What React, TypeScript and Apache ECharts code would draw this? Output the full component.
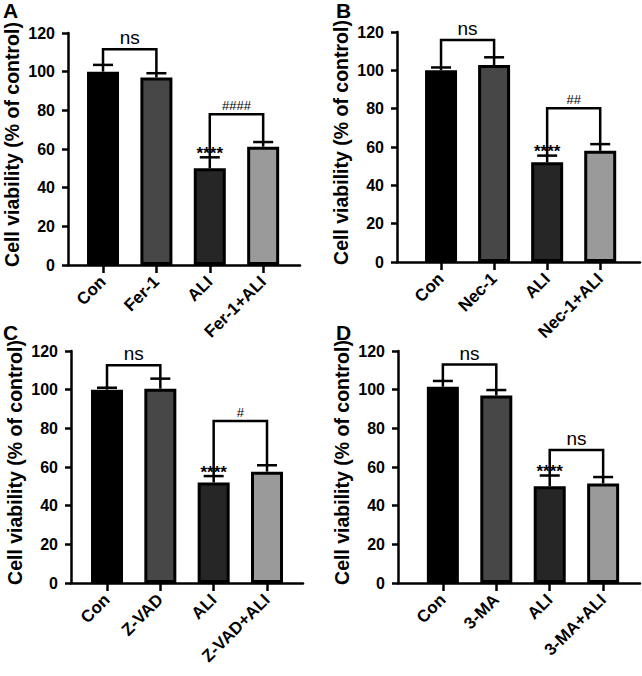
import React, { useEffect, useRef } from 'react';
import * as echarts from 'echarts';

// ---- data ----
const catsA = ['Con', 'Fer-1', 'ALI', 'Fer-1+ALI'];
const catsB = ['Con', 'Nec-1', 'ALI', 'Nec-1+ALI'];
const catsC = ['Con', 'Z-VAD', 'ALI', 'Z-VAD+ALI'];
const catsD = ['Con', '3-MA', 'ALI', '3-MA+ALI'];

const valsA = [100, 97, 50, 61.2];
const valsB = [100, 102.8, 52, 58];
const valsC = [100, 100.5, 52, 57.6];
const valsD = [101.5, 97, 50, 51.5];

const errA = [3.5, 2.2, 5.7, 2.4];
const errB = [1.5, 4, 3.5, 3.5];
const errC = [1, 5.2, 3.3, 3.3];
const errD = [3, 2.8, 5.6, 3.3];

const sigA = ['', '', '****', ''];
const sigB = ['', '', '****', ''];
const sigC = ['', '', '****', ''];
const sigD = ['', '', '****', ''];

// [from, to, level, label]
const bracketsA: [number, number, number, string][] = [[0, 1, 111.6, 'ns'], [2, 3, 78, '####']];
const bracketsB: [number, number, number, string][] = [[0, 1, 115.8, 'ns'], [2, 3, 80.2, '##']];
const bracketsC: [number, number, number, string][] = [[0, 1, 112.6, 'ns'], [2, 3, 83.8, '#']];
const bracketsD: [number, number, number, string][] = [[0, 1, 113, 'ns'], [2, 3, 68.8, 'ns']];

const letters = ['A', 'B', 'C', 'D'];
const yTitle = 'Cell viability (% of control)';

const fills = ['#000000', '#474747', '#262626', '#9a9a9a'];
const FONT = 'Liberation Sans, Arial, sans-serif';

const panels = [
  { cats: catsA, vals: valsA, err: errA, sig: sigA, br: bracketsA, left: 68, top: 33, width: 232, height: 232, min: -0.656, max: 3.69, lx: 3, ly: 0 },
  { cats: catsB, vals: valsB, err: errB, sig: sigB, br: bracketsB, left: 397, top: 32, width: 243, height: 230, min: -0.83, max: 3.75, lx: 336, ly: 0 },
  { cats: catsC, vals: valsC, err: errC, sig: sigC, br: bracketsC, left: 71, top: 351, width: 232, height: 232, min: -0.675, max: 3.675, lx: 3, ly: 322 },
  { cats: catsD, vals: valsD, err: errD, sig: sigD, br: bracketsD, left: 398, top: 351, width: 242, height: 232, min: -0.84, max: 3.69, lx: 336, ly: 322 },
];

export default function App() {
  const ref = useRef<HTMLDivElement>(null);
  useEffect(() => {
    if (!ref.current) return;
    const chart = echarts.init(ref.current, undefined, { renderer: 'svg' });
    const grid: any[] = [];
    const xAxis: any[] = [];
    const yAxis: any[] = [];
    const series: any[] = [];
    const title: any[] = [];
    panels.forEach((p, i) => {
      grid.push({ left: p.left, top: p.top, width: p.width, height: p.height, containLabel: false });
      title.push({ text: letters[i], left: p.lx, top: p.ly, padding: 0, textStyle: { fontSize: 21, fontWeight: 'bold', color: '#000', fontFamily: FONT } });
      xAxis.push({
        type: 'value', gridIndex: i, min: p.min, max: p.max,
        axisLine: { show: true, onZero: false, lineStyle: { color: '#000', width: 2.5 } },
        axisTick: { show: true, customValues: [0, 1, 2, 3], length: 8, lineStyle: { color: '#000', width: 2.5 } },
        axisLabel: {
          show: true, customValues: [0, 1, 2, 3], rotate: 45, margin: 14,
          fontSize: 17, fontWeight: 'bold', color: '#000', fontFamily: FONT,
          formatter: (v: number) => p.cats[Math.round(v)] ?? '',
        },
        splitLine: { show: false },
      });
      yAxis.push({
        type: 'value', gridIndex: i, min: 0, max: 120, interval: 20,
        name: yTitle, nameLocation: 'middle', nameGap: 46,
        nameTextStyle: { fontSize: 19.5, fontWeight: 'bold', color: '#000', fontFamily: FONT, padding: [0, 0, 0, 9] },
        axisLine: { show: true, onZero: false, lineStyle: { color: '#000', width: 2.5 } },
        axisTick: { show: true, length: 6, lineStyle: { color: '#000', width: 2.5 } },
        axisLabel: { fontSize: 16, fontWeight: 'bold', color: '#000', margin: 13, fontFamily: FONT },
        splitLine: { show: false },
      });
      series.push({
        type: 'bar', xAxisIndex: i, yAxisIndex: i, barWidth: 32,
        data: p.vals.map((v, j) => ({ value: [j, v], itemStyle: { color: fills[j], borderColor: '#000', borderWidth: 3 } })),
        z: 2,
      });
      series.push({
        type: 'custom', xAxisIndex: i, yAxisIndex: i, z: 3,
        data: p.vals.map((v, j) => [j, v, v + p.err[j]]),
        renderItem: (params: any, api: any) => {
          const x = api.value(0);
          const p0 = api.coord([x, api.value(1)]);
          const p1 = api.coord([x, api.value(2)]);
          const ls = { stroke: '#000', lineWidth: 2.5 };
          const children: any[] = [
            { type: 'line', shape: { x1: p0[0], y1: p0[1], x2: p1[0], y2: p1[1] }, style: ls },
            { type: 'line', shape: { x1: p1[0] - 10, y1: p1[1], x2: p1[0] + 10, y2: p1[1] }, style: ls },
          ];
          const s = p.sig[params.dataIndex];
          if (s) {
            children.push({ type: 'text', style: { text: s, x: p1[0], y: p1[1] - 4, align: 'center', verticalAlign: 'middle', fontSize: 17, fontWeight: 'bold', fontFamily: FONT, fill: '#000' } });
          }
          return { type: 'group', children };
        },
      });
      series.push({
        type: 'custom', xAxisIndex: i, yAxisIndex: i, z: 4,
        data: p.br.map((b) => [b[0], b[1], b[2], p.vals[b[0]] + p.err[b[0]], p.vals[b[1]] + p.err[b[1]]]),
        renderItem: (params: any, api: any) => {
          const a = api.coord([api.value(0), api.value(2)]);
          const b = api.coord([api.value(1), api.value(2)]);
          const a2 = api.coord([api.value(0), api.value(3)]);
          const b2 = api.coord([api.value(1), api.value(4)]);
          const label = p.br[params.dataIndex][3];
          const isNs = label === 'ns';
          return {
            type: 'group',
            children: [
              { type: 'polyline', shape: { points: [[a2[0], a2[1]], [a[0], a[1]], [b[0], b[1]], [b2[0], b2[1]]] }, style: { stroke: '#000', lineWidth: 2.5, fill: 'none' } },
              { type: 'text', style: { text: label, x: (a[0] + b[0]) / 2, y: a[1] - 2, align: 'center', verticalAlign: 'bottom', fontSize: isNs ? 19 : 13, fontFamily: FONT, fill: '#000' } },
            ],
          };
        },
      });
    });
    chart.setOption({
      animation: false,
      backgroundColor: '#fff',
      textStyle: { fontFamily: FONT },
      title, grid, xAxis, yAxis, series,
    });
    return () => chart.dispose();
  }, []);
  return <div ref={ref} style={{ position: 'absolute', left: 0, top: 0, width: 642, height: 676 }} />;
}
